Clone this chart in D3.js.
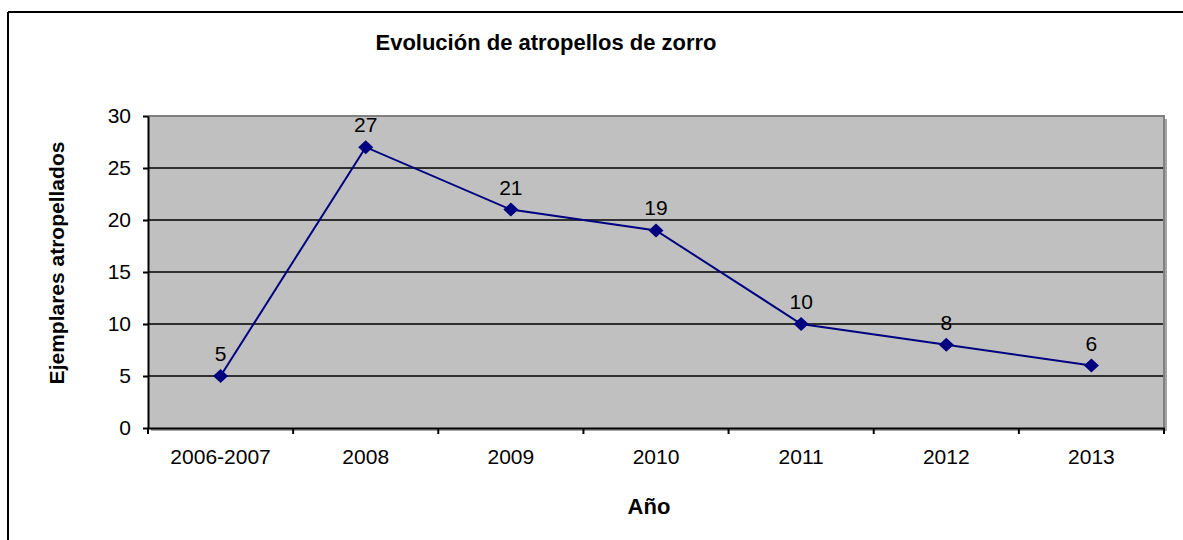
<!DOCTYPE html>
<html>
<head>
<meta charset="utf-8">
<script src="https://cdn.jsdelivr.net/npm/d3@7"></script>
<style>
  body { margin: 0; background: #fff; }
  text { font-family: "Liberation Sans", Arial, sans-serif; fill: #000; }
</style>
</head>
<body>
<div id="chart"></div>
<script>
let years = ["2006-2007", "2008", "2009", "2010", "2011", "2012", "2013"];
let roadkills = [5, 27, 21, 19, 10, 8, 6];
let yTicks = [0, 5, 10, 15, 20, 25, 30];

let width = 1183, height = 540;
let margin = {top: 116, right: 19, bottom: 112, left: 148};
let plotW = width - margin.left - margin.right,
    plotH = height - margin.top - margin.bottom;

let svg = d3.select("#chart").append("svg")
    .attr("width", width)
    .attr("height", height);

// outer chart border
svg.append("line").attr("x1", 8).attr("y1", 12).attr("x2", width).attr("y2", 12)
    .attr("stroke", "#000").attr("stroke-width", 2);
svg.append("line").attr("x1", 8).attr("y1", 12).attr("x2", 8).attr("y2", height)
    .attr("stroke", "#000").attr("stroke-width", 2);

svg.append("text")
    .attr("x", 546).attr("y", 50)
    .attr("text-anchor", "middle")
    .attr("font-size", "22px").attr("font-weight", "bold")
    .text("Evolución de atropellos de zorro");

let g = svg.append("g")
    .attr("transform", "translate(" + margin.left + "," + margin.top + ")");

let x = d3.scaleBand().domain(years).range([0, plotW]);
let y = d3.scaleLinear().domain([0, 30]).range([plotH, 0]);

// shadow + plot background
g.append("rect").attr("x", 3).attr("y", 3).attr("width", plotW).attr("height", plotH)
    .attr("fill", "#a6a6a6");
g.append("rect").attr("width", plotW).attr("height", plotH).attr("fill", "#c0c0c0");

g.selectAll(".grid")
    .data(yTicks.filter(d => d > 0 && d < 30))
    .enter().append("line")
    .attr("x1", 0).attr("x2", plotW)
    .attr("y1", d => y(d)).attr("y2", d => y(d))
    .attr("stroke", "#000").attr("stroke-width", 1.5);

// top / right border of plot area
g.append("path")
    .attr("d", "M0," + y(30) + "H" + plotW + "V" + plotH)
    .attr("fill", "none").attr("stroke", "#808080").attr("stroke-width", 2);

// y axis
let yAxis = g.append("g")
    .call(d3.axisLeft(y).tickValues(yTicks).tickSize(5).tickSizeOuter(0));
yAxis.select(".domain").attr("stroke", "#000").attr("stroke-width", 2);
yAxis.selectAll(".tick line").attr("stroke", "#000").attr("stroke-width", 2);
yAxis.selectAll(".tick text").attr("font-size", "21px").attr("x", -17)
    .attr("font-family", "Liberation Sans, Arial, sans-serif");

// x axis with ticks between categories
let xAxis = g.append("g")
    .attr("transform", "translate(0," + plotH + ")")
    .call(d3.axisBottom(x).tickSize(0).tickSizeOuter(0));
xAxis.select(".domain").attr("stroke", "#000").attr("stroke-width", 2);
xAxis.selectAll(".tick text").attr("font-size", "21px").attr("dy", 0).attr("y", 36)
    .attr("font-family", "Liberation Sans, Arial, sans-serif");
xAxis.selectAll(".sep")
    .data(d3.range(years.length + 1))
    .enter().append("line")
    .attr("x1", i => i * x.step()).attr("x2", i => i * x.step())
    .attr("y1", 0).attr("y2", 6)
    .attr("stroke", "#000").attr("stroke-width", 2);

let line = d3.line()
    .x((d, i) => x(years[i]) + x.bandwidth() / 2)
    .y(d => y(d));

g.append("path")
    .datum(roadkills)
    .attr("d", line)
    .attr("fill", "none")
    .attr("stroke", "#000080")
    .attr("stroke-width", 2);

g.selectAll(".marker")
    .data(roadkills)
    .enter().append("path")
    .attr("d", "M0,-7L7.5,0L0,7L-7.5,0Z")
    .attr("transform", (d, i) => "translate(" + (x(years[i]) + x.bandwidth() / 2) + "," + y(d) + ")")
    .attr("fill", "#000080");

g.selectAll(".label")
    .data(roadkills)
    .enter().append("text")
    .attr("x", (d, i) => x(years[i]) + x.bandwidth() / 2)
    .attr("y", d => y(d) - 15)
    .attr("text-anchor", "middle")
    .attr("font-size", "21px")
    .text(d => d);

svg.append("text")
    .attr("x", 649).attr("y", 514)
    .attr("text-anchor", "middle")
    .attr("font-size", "22px").attr("font-weight", "bold")
    .text("Año");

svg.append("text")
    .attr("transform", "translate(64,263) rotate(-90)")
    .attr("text-anchor", "middle")
    .attr("font-size", "21px").attr("font-weight", "bold")
    .text("Ejemplares atropellados");
</script>
</body>
</html>
